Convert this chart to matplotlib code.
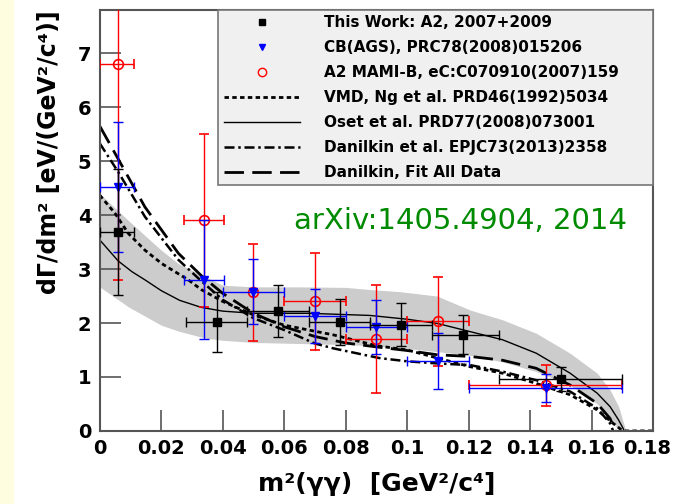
import matplotlib.pyplot as plt
from matplotlib.lines import Line2D
from matplotlib.transforms import ScaledTranslation

# ─── Data ───────────────────────────────────────────────────────────────────
# This Work: A2, 2007+2009
a2_x = [0.006, 0.038, 0.058, 0.078, 0.098, 0.118, 0.150]
a2_y = [3.68, 2.02, 2.22, 2.02, 1.97, 1.78, 0.96]
a2_xlo = [0.006, 0.010, 0.010, 0.010, 0.010, 0.010, 0.020]
a2_xhi = [0.005, 0.010, 0.010, 0.010, 0.010, 0.012, 0.020]
a2_yerr = [1.17, 0.55, 0.48, 0.42, 0.40, 0.36, 0.22]

# CB(AGS), PRC78(2008)015206
cb_x = [0.006, 0.034, 0.050, 0.070, 0.090, 0.110, 0.145]
cb_y = [4.52, 2.80, 2.58, 2.13, 1.93, 1.30, 0.80]
cb_xlo = [0.006, 0.0065, 0.010, 0.010, 0.010, 0.010, 0.025]
cb_xhi = [0.005, 0.0065, 0.010, 0.010, 0.010, 0.010, 0.025]
cb_yerr = [1.20, 1.10, 0.60, 0.50, 0.50, 0.52, 0.26]

# A2 MAMI-B, eC:C070910(2007)159
mb_x = [0.006, 0.034, 0.050, 0.070, 0.090, 0.110, 0.145]
mb_y = [6.80, 3.90, 2.57, 2.40, 1.70, 2.03, 0.85]
mb_xlo = [0.006, 0.0065, 0.0, 0.010, 0.010, 0.010, 0.025]
mb_xhi = [0.005, 0.0065, 0.0, 0.010, 0.010, 0.010, 0.025]
mb_yerr = [4.00, 1.60, 0.90, 0.90, 1.00, 0.83, 0.38]

# theory curves
vmd_x = [0.0, 0.005, 0.0093, 0.0147, 0.0202, 0.0288, 0.033, 0.040, 0.050, 0.060,
         0.076, 0.090, 0.100, 0.1205, 0.131, 0.142, 0.153, 0.1618, 0.167, 0.1695,
         0.171, 0.180]
vmd_y = [4.37, 4.03, 3.66, 3.35, 3.10, 2.80, 2.62, 2.40, 2.15, 1.96,
         1.78, 1.58, 1.50, 1.19, 1.07, 0.88, 0.67, 0.39, 0.14, 0.03,
         0.0, 0.0]

oset_x = [0.0, 0.006, 0.0105, 0.0147, 0.020, 0.026, 0.033, 0.040, 0.050, 0.068,
          0.088, 0.100, 0.110, 0.1205, 0.131, 0.142, 0.153, 0.1618, 0.166,
          0.1688, 0.1704]
oset_y = [3.54, 3.15, 2.95, 2.80, 2.60, 2.42, 2.29, 2.22, 2.18, 2.18,
          2.14, 2.07, 1.99, 1.84, 1.69, 1.44, 1.07, 0.70, 0.45,
          0.20, 0.03]

dan_x = [0.0, 0.006, 0.0147, 0.0256, 0.033, 0.040, 0.050, 0.060, 0.070, 0.076,
         0.091, 0.100, 0.110, 0.1205, 0.131, 0.142, 0.153, 0.1618, 0.166, 0.167]
dan_y = [5.33, 4.80, 3.97, 3.17, 2.78, 2.43, 2.09, 1.87, 1.62, 1.53,
         1.35, 1.29, 1.25, 1.22, 1.10, 0.94, 0.73, 0.42, 0.14, 0.0]

fit_x = [0.0, 0.006, 0.0147, 0.0256, 0.033, 0.040, 0.050, 0.060, 0.070, 0.080,
         0.091, 0.100, 0.110, 0.1205, 0.131, 0.142, 0.153, 0.1618, 0.166, 0.1677]
fit_y = [5.65, 5.04, 4.15, 3.29, 2.88, 2.55, 2.18, 1.93, 1.75, 1.63,
         1.55, 1.49, 1.41, 1.38, 1.31, 1.16, 0.85, 0.51, 0.23, 0.0]

band_x = [0.0, 0.0093, 0.020, 0.0256, 0.0343, 0.040, 0.050, 0.065, 0.080, 0.088,
          0.0978, 0.1097, 0.1205, 0.131, 0.142, 0.153, 0.1618, 0.166, 0.1688,
          0.1704, 0.171]
band_hi = [4.40, 3.90, 3.35, 3.10, 2.86, 2.70, 2.67, 2.67, 2.66, 2.62,
           2.58, 2.50, 2.24, 2.06, 1.81, 1.44, 1.07, 0.76, 0.45,
           0.14, 0.04]
band_lo = [2.67, 2.30, 1.96, 1.85, 1.72, 1.68, 1.64, 1.62, 1.60, 1.58,
           1.54, 1.47, 1.40, 1.28, 1.10, 0.85, 0.50, 0.25, 0.0,
           0.0, 0.0]

xticks = [0, 0.02, 0.04, 0.06, 0.08, 0.1, 0.12, 0.14, 0.16, 0.18]
xtick_labels = ["0", "0.02", "0.04", "0.06", "0.08", "0.1", "0.12", "0.14", "0.16", "0.18"]
yticks = [0, 1, 2, 3, 4, 5, 6, 7]

legend_labels = ["This Work: A2, 2007+2009",
                 "CB(AGS), PRC78(2008)015206",
                 "A2 MAMI-B, eC:C070910(2007)159",
                 "VMD, Ng et al. PRD46(1992)5034",
                 "Oset et al. PRD77(2008)073001",
                 "Danilkin et al. EPJC73(2013)2358",
                 "Danilkin, Fit All Data"]

# ─── Styles ────────────────────────────────────────────────────────────────
VMD_LS = (0, (1.6, 1.2))
DAN_LS = (0, (4, 1.5, 1, 1.5))
FIT_LS = (0, (7, 3))

# ─── Figure ────────────────────────────────────────────────────────────────
fig = plt.figure(figsize=(6.74, 5.04), dpi=100)
fig.patch.set_facecolor("white")
# pale yellow strip on the left edge
fig.patches.append(plt.Rectangle((0, 0), 14 / 674, 1, transform=fig.transFigure,
                                 facecolor="#fffde0", edgecolor="none", zorder=0))

ax = fig.add_axes([0.148, 0.145, 0.821, 0.835])

ax.fill_between(band_x, band_lo, band_hi, color="#cccccc", lw=0, zorder=1)

ax.plot(vmd_x, vmd_y, color="black", lw=2.0, ls=VMD_LS, zorder=2)
ax.plot(oset_x, oset_y, color="black", lw=1.0, zorder=2)
ax.plot(dan_x, dan_y, color="black", lw=1.8, ls=DAN_LS, zorder=2)
ax.plot(fit_x, fit_y, color="black", lw=2.0, ls=FIT_LS, zorder=2)

ax.errorbar(mb_x, mb_y, xerr=[mb_xlo, mb_xhi], yerr=mb_yerr, fmt="o", ms=7,
            mfc="none", mec="red", ecolor="red", elinewidth=1, capsize=3.5,
            mew=1.2, zorder=3)
ax.errorbar(cb_x, cb_y, xerr=[cb_xlo, cb_xhi], yerr=cb_yerr, fmt="v", ms=6,
            color="blue", ecolor="blue", elinewidth=1, capsize=3.5, zorder=4)
ax.errorbar(a2_x, a2_y, xerr=[a2_xlo, a2_xhi], yerr=a2_yerr, fmt="s", ms=6,
            color="black", ecolor="black", elinewidth=1, capsize=3.5, zorder=5)

ax.set_xlim(0, 0.18)
ax.set_ylim(0, 7.8)
ax.set_xticks(xticks)
ax.set_xticklabels(xtick_labels)
ax.set_yticks(yticks)
ax.tick_params(direction="in", length=15, width=1.2, color="#555555",
               labelsize=14, pad=6)
for lab in ax.get_xticklabels() + ax.get_yticklabels():
    lab.set_fontweight("bold")
# keep the last x label inside the canvas
last = ax.get_xticklabels()[-1]
last.set_transform(last.get_transform() + ScaledTranslation(-4 / 72, 0, fig.dpi_scale_trans))
for sp in ax.spines.values():
    sp.set_color("#555555")
    sp.set_linewidth(1.5)

ax.set_xlabel("m\u00b2(\u03b3\u03b3)  [GeV\u00b2/c\u2074]", fontsize=18,
              fontweight="bold", labelpad=10)
ax.set_ylabel("d\u0393/dm\u00b2 [eV/(GeV\u00b2/c\u2074)]", fontsize=17,
              fontweight="bold", loc="top", labelpad=12)

ax.text(0.351, 0.50, "arXiv:1405.4904, 2014", transform=ax.transAxes,
        color="#008a00", fontsize=21, va="center", ha="left")

handles = [
    Line2D([], [], ls="none", marker="s", ms=5, color="black"),
    Line2D([], [], ls="none", marker="v", ms=5, color="blue"),
    Line2D([], [], ls="none", marker="o", ms=6, mfc="none", mec="red"),
    Line2D([], [], color="black", lw=2.0, ls=VMD_LS),
    Line2D([], [], color="black", lw=1.0),
    Line2D([], [], color="black", lw=1.8, ls=DAN_LS),
    Line2D([], [], color="black", lw=2.0, ls=FIT_LS),
]
leg = ax.legend(handles, legend_labels, loc="upper left",
                bbox_to_anchor=(0.214, 0.0, 0.786, 1.0), mode="expand",
                borderaxespad=0, fancybox=False, framealpha=1,
                facecolor="#f0f0f0", edgecolor="#777777",
                prop={"weight": "bold", "size": 11}, handlelength=5.0,
                handletextpad=1.6, labelspacing=0.65, borderpad=0.35)
leg.get_frame().set_linewidth(1.2)
leg.set_zorder(10)

fig.savefig("out.png", dpi=100)
